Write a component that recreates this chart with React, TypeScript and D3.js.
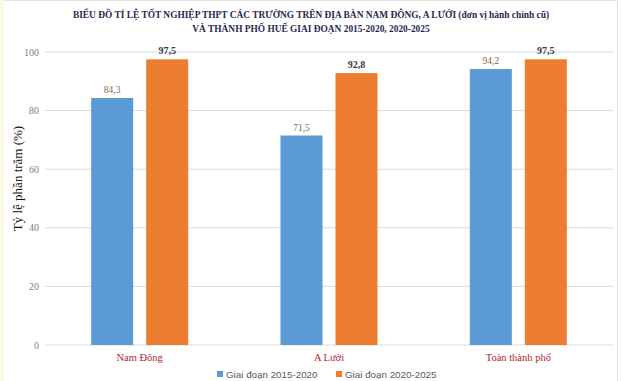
import React from "react";
import * as d3 from "d3";

const categories = ["Nam Đông", "A Lưới", "Toàn thành phố"];
const seriesNames = ["Giai đoạn 2015-2020", "Giai đoạn 2020-2025"];
const values2015 = [84.3, 71.5, 94.2];
const values2020 = [97.5, 92.8, 97.5];
const yTicks = [0, 20, 40, 60, 80, 100];
const titleLines = [
  "BIỂU ĐỒ TỈ LỆ TỐT NGHIỆP THPT CÁC TRƯỜNG TRÊN ĐỊA BÀN NAM ĐÔNG, A LƯỚI (đơn vị hành chính cũ)",
  "VÀ THÀNH PHỐ HUẾ GIAI ĐOẠN 2015-2020, 2020-2025",
];
const yTitle = "Tỷ lệ phần trăm (%)";

const W = 621;
const H = 381;
const colors = ["#5b9bd5", "#ed7d31"];
const serif = "Liberation Serif, Times New Roman, DejaVu Serif, serif";
const sans = "Liberation Sans, Arial, sans-serif";

export default function App() {
  const left = 45;
  const right = 613;
  const top = 52;
  const bottom = 345;
  const x0 = d3.scaleBand<string>().domain(categories).range([left, right]);
  const y = d3.scaleLinear().domain([0, 100]).range([bottom, top]);
  const barW = 42;
  const gap = 13;
  const series = [values2015, values2020];
  const fmt = (v: number) => v.toFixed(1).replace(".", ",");

  return (
    <svg
      width={W}
      height={H}
      style={{ position: "absolute", left: 0, top: 0, background: "#fff" }}
    >
      <rect x={0} y={0} width={W} height={H} fill="#fff" />
      <rect x={0} y={0} width={4} height={H} fill="#fbf8e4" />
      <line x1={4} x2={617} y1={0.5} y2={0.5} stroke="#e4e4e4" />
      <line x1={617.5} x2={617.5} y1={0} y2={H} stroke="#e4e4e4" />

      {titleLines.map((t, i) => (
        <text
          key={i}
          x={311}
          y={17.5 + i * 14}
          textAnchor="middle"
          style={{ fontFamily: serif, fontWeight: 700, fontSize: 9.4 }}
          fill="#1f2a50"
        >
          {t}
        </text>
      ))}

      {yTicks.map((t) => (
        <g key={t}>
          <line x1={left} x2={right} y1={y(t)} y2={y(t)} stroke="#d9d9d9" strokeWidth={1} />
          <text
            x={39}
            y={y(t) + 3.5}
            textAnchor="end"
            style={{ fontFamily: serif, fontSize: 10 }}
            fill="#808080"
          >
            {t}
          </text>
        </g>
      ))}

      <text
        transform={`translate(22,${(top + bottom) / 2 - 20}) rotate(-90)`}
        textAnchor="middle"
        style={{ fontFamily: serif, fontSize: 13 }}
        fill="#111"
      >
        {yTitle}
      </text>

      {categories.map((c, ci) => {
        const cx = (x0(c) as number) + x0.bandwidth() / 2;
        return (
          <g key={c}>
            {series.map((vals, si) => {
              const bx = si === 0 ? cx - gap / 2 - barW : cx + gap / 2;
              const v = vals[ci];
              return (
                <g key={si}>
                  <rect
                    x={bx}
                    y={y(v)}
                    width={barW}
                    height={bottom - y(v)}
                    fill={colors[si]}
                  />
                  <text
                    x={bx + barW / 2}
                    y={y(v) - 5}
                    textAnchor="middle"
                    style={{
                      fontFamily: serif,
                      fontSize: si === 0 ? 9.5 : 10,
                      fontWeight: si === 0 ? 400 : 700,
                    }}
                    fill={si === 0 ? "#7a6a50" : "#3a3a3a"}
                  >
                    {fmt(v)}
                  </text>
                </g>
              );
            })}
            <text
              x={cx}
              y={361}
              textAnchor="middle"
              style={{ fontFamily: serif, fontSize: 10.5 }}
              fill="#b3262a"
            >
              {c}
            </text>
          </g>
        );
      })}

      {seriesNames.map((s, i) => {
        const lx = i === 0 ? 217 : 336;
        return (
          <g key={s}>
            <rect x={lx} y={371} width={6} height={6} fill={colors[i]} />
            <text
              x={lx + 9}
              y={377.5}
              style={{ fontFamily: sans, fontSize: 9.8 }}
              fill="#595959"
            >
              {s}
            </text>
          </g>
        );
      })}
    </svg>
  );
}
